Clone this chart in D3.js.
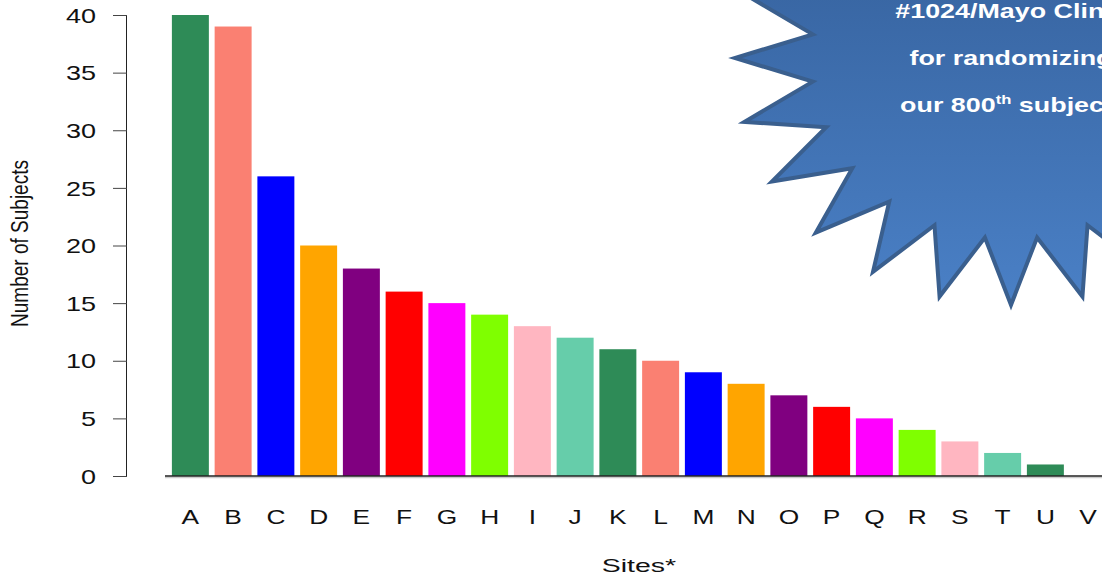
<!DOCTYPE html>
<html>
<head>
<meta charset="utf-8">
<script src="https://cdn.jsdelivr.net/npm/d3@7"></script>
<style>
  body { margin: 0; background: #fff; }
  svg { display: block; font-family: "Liberation Sans", Arial, sans-serif; }
</style>
</head>
<body>
<svg id="chart" width="1102" height="574"></svg>
<script>
const sites = ["A","B","C","D","E","F","G","H","I","J","K","L","M","N","O","P","Q","R","S","T","U","V"];
const subjects = [40,39,26,20,18,16,15,14,13,12,11,10,9,8,7,6,5,4,3,2,1,0];
const palette = ["#2E8B57","#FA8072","#0000FF","#FFA500","#800080","#FF0000","#FF00FF","#7FFF00","#FFB6C1","#66CDAA"];
const yTicks = [0,5,10,15,20,25,30,35,40];
const burstLines = ["#1024/Mayo Clinic", "for randomizing", "our 800|th| subject!"];

const svg = d3.select("#chart");
const stretch = 1.35; // the picture is widened horizontally

const x = d3.scaleBand()
  .domain(sites)
  .range([169, 169 + 22 * 42.75])
  .paddingInner(0.135)
  .paddingOuter(0.0675);

const y = d3.scaleLinear().domain([0, 40]).range([476, 15]);

// bars
svg.append("g").selectAll("rect")
  .data(sites)
  .enter().append("rect")
  .attr("x", d => x(d))
  .attr("y", (d, i) => y(subjects[i]))
  .attr("width", x.bandwidth())
  .attr("height", (d, i) => y(0) - y(subjects[i]))
  .attr("fill", (d, i) => palette[i % palette.length]);

// baseline with faint shadow
svg.append("line").attr("x1", 165).attr("x2", 1102).attr("y1", 477.5).attr("y2", 477.5)
  .attr("stroke", "#ccc").attr("stroke-width", 1.5);
svg.append("line").attr("x1", 165).attr("x2", 1102).attr("y1", y(0)).attr("y2", y(0))
  .attr("stroke", "#222").attr("stroke-width", 1.5);

// y axis
const yAxis = d3.axisLeft(y).tickValues(yTicks).tickSize(14).tickPadding(0).tickFormat(d3.format("d"));
const gy = svg.append("g").attr("transform", "translate(127,0)").call(yAxis);
gy.select(".domain").attr("stroke", "#222").attr("d", "M-0.5," + y(40) + "V" + y(0));
gy.selectAll(".tick line").attr("stroke", "#444");
gy.selectAll(".tick text")
  .attr("x", 0)
  .attr("font-size", 20)
  .attr("fill", "#111")
  .attr("text-anchor", "end")
  .attr("dy", "0.36em")
  .attr("transform", "translate(-31,0) scale(" + stretch + ",1)");

// x labels
svg.append("g").selectAll("text")
  .data(sites)
  .enter().append("text")
  .attr("transform", d => "translate(" + (x(d) + x.bandwidth() / 2) + ",524) scale(" + stretch + ",1)")
  .attr("text-anchor", "middle")
  .attr("font-size", 19.5)
  .attr("fill", "#111")
  .text(d => d);

// axis titles
svg.append("text")
  .attr("transform", "translate(639,572) scale(1.5,1)")
  .attr("text-anchor", "middle")
  .attr("font-size", 19)
  .attr("fill", "#111")
  .text("Sites*");

svg.append("text")
  .attr("transform", "translate(28,243.5) rotate(-90)")
  .attr("text-anchor", "middle")
  .attr("font-size", 23)
  .attr("textLength", 167)
  .attr("lengthAdjust", "spacingAndGlyphs")
  .attr("fill", "#111")
  .text("Number of Subjects");

// starburst callout
const defs = svg.append("defs");
const grad = defs.append("linearGradient").attr("id", "burstFill")
  .attr("x1", 0).attr("y1", 0).attr("x2", 0).attr("y2", 1);
grad.append("stop").attr("offset", "0%").attr("stop-color", "#2f5890");
grad.append("stop").attr("offset", "100%").attr("stop-color", "#4a80c6");

const cx = 1011, cy = 58;
const pts = d3.range(48).map(k => {
  const a = k * Math.PI / 24;
  const outer = k % 2 === 0;
  const rx = outer ? 276 : 200, ry = outer ? 247 : 181;
  return [cx + rx * Math.cos(a), cy + ry * Math.sin(a)];
});
svg.append("path")
  .attr("d", d3.line().curve(d3.curveLinearClosed)(pts))
  .attr("fill", "url(#burstFill)")
  .attr("stroke", "#3a5f8e")
  .attr("stroke-width", 4)
  .attr("stroke-linejoin", "miter");

const bt = svg.append("g").attr("font-weight", "bold").attr("fill", "#fff");
burstLines.forEach((line, i) => {
  const parts = line.split("|");
  const t = bt.append("text")
    .attr("transform", "translate(1011," + (18 + i * 47) + ") scale(1.28,1)")
    .attr("text-anchor", "middle")
    .attr("font-size", 21);
  t.append("tspan").text(parts[0]);
  if (parts.length > 1) {
    t.append("tspan").attr("font-size", 13).attr("dy", -8).text(parts[1]);
    t.append("tspan").attr("dy", 8).text(parts[2]);
  }
});
</script>
</body>
</html>
